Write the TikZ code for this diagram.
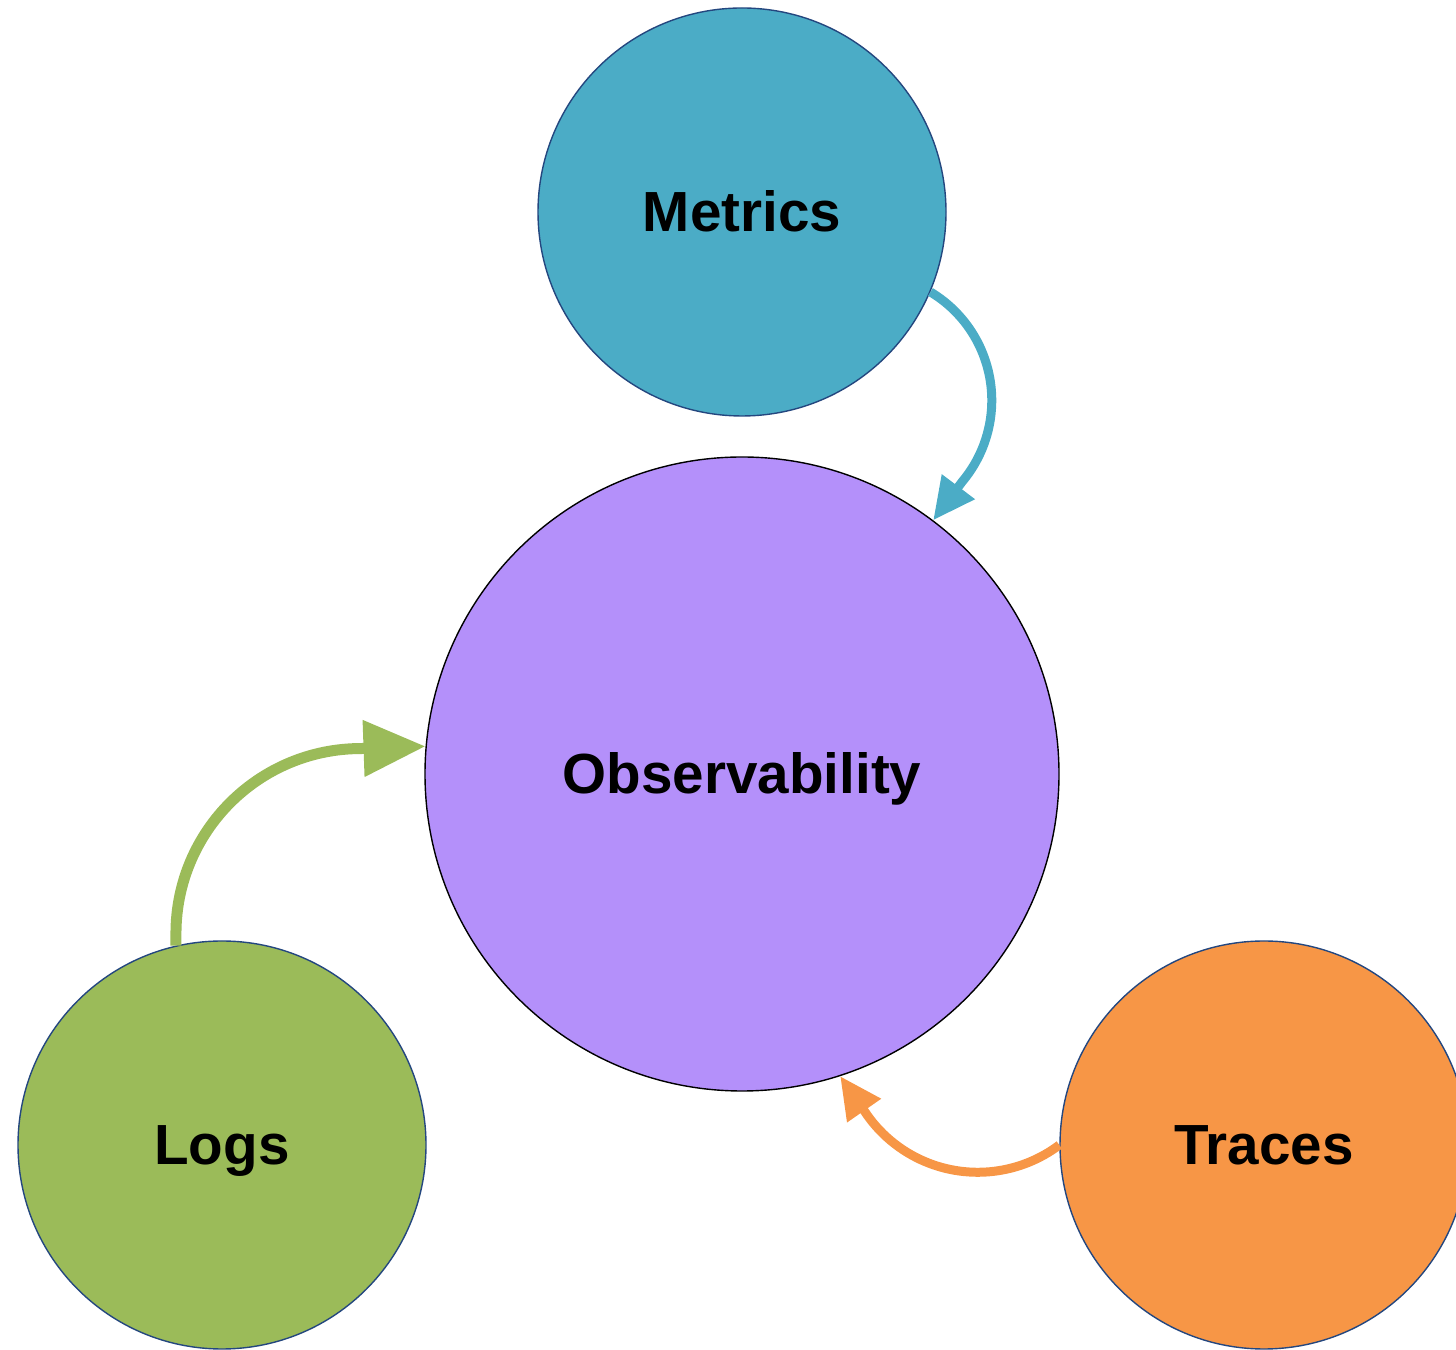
\documentclass[tikz,border=0pt]{standalone}
\usepackage{fontspec}
\setmainfont{Liberation Sans}
\usetikzlibrary{arrows.meta}
\definecolor{metricsC}{HTML}{4BACC6}
\definecolor{obsC}{HTML}{B490FA}
\definecolor{logsC}{HTML}{9BBB59}
\definecolor{tracesC}{HTML}{F79646}
\definecolor{rimC}{HTML}{24477F}
\tikzset{
  bubble/.style={circle, inner sep=0pt, line width=0.7pt, draw=rimC,
    font=\fontsize{28.3}{34}\selectfont\bfseries, text height=20pt, text depth=0pt},
  small/.style={bubble, minimum size=204pt},
  big/.style={bubble, minimum size=317pt, draw=black},
  thinflow/.style={line width=4.5pt, -{Triangle[length=21pt,width=19.5pt]}},
  thickflow/.style={line width=5.5pt, -{Triangle[length=31pt,width=27pt]}},
}
\begin{document}
\begin{tikzpicture}[x=0.5pt,y=0.5pt]
\useasboundingbox (0,0) rectangle (1456,1349);
\node[big, fill=obsC] (obs) at (742,575) {Observability};
\node[small, fill=metricsC] (metrics) at (742,1137) {Metrics};
\node[small, fill=logsC] (logs) at (222,204) {Logs};
\node[small, fill=tracesC] (traces) at (1264,204) {Traces};
\draw[metricsC, thinflow]
  (metrics.-23) arc[start angle=59, end angle=-40, radius=126.5] -- (obs.53.3);
\draw[logsC, thickflow]
  (logs.103) -- ++(0,12) arc[start angle=180, end angle=90, radius=185] -- (obs.175.5);
\draw[tracesC, thinflow]
  (traces.west) arc[start angle=-53, end angle=-147, radius=135.5] -- (obs.-72.1);
\end{tikzpicture}
\end{document}
